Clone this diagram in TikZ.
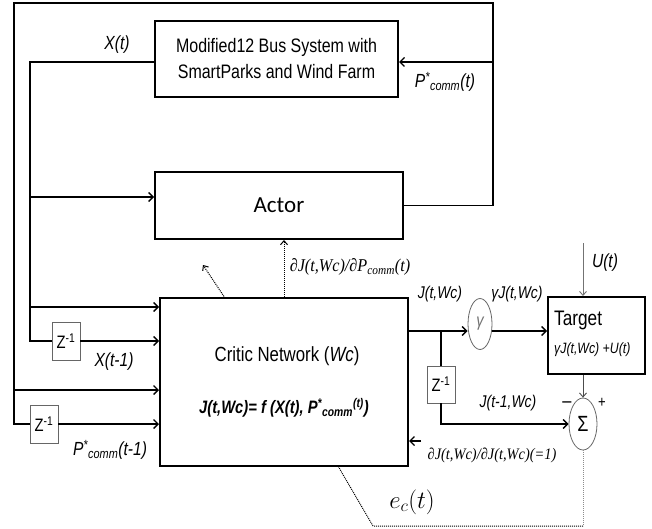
\documentclass[tikz,border=0pt]{standalone}
\usepackage{fontspec}
\setmainfont[FakeStretch=0.82]{Liberation Sans}
\newfontfamily\carl{Carlito}
\newfontfamily\serifit[FakeStretch=0.9]{Liberation Serif}
\usetikzlibrary{arrows.meta,shapes.geometric}
\begin{document}
\begin{tikzpicture}[x=1pt,y=-1pt,
  bigbox/.style={draw, line width=2pt, inner sep=0pt},
  zbox/.style={draw=black!60, line width=0.8pt, fill=white, inner sep=0pt, minimum width=28pt, minimum height=38pt, font=\fontsize{18}{20}\selectfont},
  oval/.style={draw=black!60, ellipse, line width=0.8pt, inner sep=0pt},
  wire/.style={line width=1.4pt, line cap=rect},
  arr/.style={line width=1.4pt, -{Straight Barb[length=4.5pt,width=9pt]}},
  dotarr/.style={line width=1pt, densely dotted, -{Straight Barb[length=4pt,width=7pt]}},
  lbl/.style={inner sep=0pt, font=\fontsize{19}{21}\selectfont\itshape},
  slbl/.style={inner sep=0pt, font=\fontsize{17}{19}\selectfont\itshape},
]
\useasboundingbox (0,0) rectangle (652,529);

% boxes
\node[bigbox, minimum width=243pt, minimum height=76pt, align=center,
      font=\fontsize{19.5}{26}\selectfont] (bus) at (276.5,59)
  {Modified12 Bus System with\\SmartParks and Wind Farm};
\node[bigbox, minimum width=248pt, minimum height=67pt,
      font=\carl\fontsize{23}{25}\selectfont] (actor) at (279,205.5) {Actor};
\node[bigbox, minimum width=248pt, minimum height=168pt] (critic) at (284,382) {};
\node[inner sep=0pt, font=\fontsize{20.5}{22}\selectfont] (ctitle) at (287,356) {Critic Network (\textit{Wc})};
\node[inner sep=0pt, font=\fontsize{18}{20}\selectfont\bfseries\itshape] (cform) at (284,408)
  {J(t,Wc)= f (X(t), P\textsuperscript{*}\textsubscript{comm}\textsuperscript{(t)})};

\node[zbox] (z1) at (66,341) {Z\textsuperscript{-1}};
\node[zbox] (z2) at (44,424) {Z\textsuperscript{-1}};
\node[zbox, minimum height=37pt] (z3) at (441,384.5) {Z\textsuperscript{-1}};

\node[oval, minimum width=24pt, minimum height=51pt, text=black!55,
      font=\fontsize{18}{20}\selectfont\itshape] (gamma) at (480,324) {γ};
\node[bigbox, minimum width=97pt, minimum height=77pt] (target) at (596.5,335.5) {};
\node[inner sep=0pt, anchor=west, font=\fontsize{21}{23}\selectfont] (ttitle) at (554,320) {Target};
\node[inner sep=0pt, anchor=west, font=\fontsize{15}{17}\selectfont\itshape] (tform) at (554,350) {γJ(t,Wc) +U(t)};
\node[oval, minimum width=28pt, minimum height=52pt,
      font=\fontsize{22}{24}\selectfont] (sigma) at (583,424) {Σ};

% coordinates
\coordinate (xt) at (30,62);
\coordinate (xa) at (30,197);
\coordinate (xc) at (30,307);
\coordinate (xb) at (30,341);
\coordinate (ra) at (493,205.5);
\coordinate (rb) at (493,62);
\coordinate (rt) at (493,3);
\coordinate (lt) at (14,3);
\coordinate (lc) at (14,390);
\coordinate (lb) at (14,424);
\coordinate (da) at (225,298);
\coordinate (db) at (203,265);
\coordinate (jb) at (441,331);
\coordinate (ut) at (583,243);
\coordinate (dj) at (421,441);
\coordinate (ea) at (583,526);
\coordinate (eb) at (373,526);
\coordinate (ec) at (338,466);

% left wiring
\draw[wire] (bus.west |- xt) -- (xt) -- (xb) -- (z1.west);
\draw[arr] (xa) -- (actor.west |- xa);
\draw[arr] (xc) -- (critic.west |- xc);
\draw[arr] (z1.east) -- (critic.west |- z1.east);
\draw[wire] (actor.east) -- (ra) -- (rt) -- (lt) -- (lb) -- (z2.west);
\draw[arr] (rb) -- (bus.east |- rb);
\draw[arr] (lc) -- (critic.west |- lc);
\draw[arr] (z2.east) -- (critic.west |- z2.east);

% dotted gradients
\draw[dotarr] (critic.north) -- (critic.north |- actor.south);
\draw[dotarr] (da) -- (db);

% right wiring
\draw[arr] (critic.east |- jb) -- (gamma.west |- jb);
\draw[arr] (gamma.east |- jb) -- (target.west |- jb);
\draw[wire] (jb) -- (z3.north);
\draw[arr] (z3.south) -- (z3.south |- sigma) -- (sigma.west);
\draw[line width=0.9pt, black!55, -{Straight Barb[length=4pt,width=7pt]}] (ut) -- (sigma.north |- target.north);
\draw[line width=0.9pt, black!70, -{Straight Barb[length=4pt,width=7pt]}] (sigma.north |- target.south) -- (sigma.north);
\draw[arr] (dj) -- (critic.east |- dj);
\draw[line width=1pt, densely dotted, black!45] (sigma.south) -- (ea);
\draw[line width=1pt, densely dotted] (ea) -- (eb) -- (ec);

% labels
\node[lbl] (lxt) at (117,45) {X(t)};
\node[lbl] (lpt) at (445,82) {P\textsuperscript{*}\textsubscript{comm}(t)};
\node[lbl] (lx1) at (114,362) {X(t-1)};
\node[lbl] (lp1) at (110,450) {P\textsuperscript{*}\textsubscript{comm}(t-1)};
\node[inner sep=0pt, font=\serifit\fontsize{18}{20}\selectfont\itshape] (ldp) at (350,267)
  {∂J(t,Wc)/∂P\textsubscript{comm}(t)};
\node[slbl] (ljt) at (440,294) {J(t,Wc)};
\node[slbl] (lgj) at (517,294) {γJ(t,Wc)};
\node[slbl] (lj1) at (508,403) {J(t-1,Wc)};
\node[lbl] (lu) at (605,263) {U(t)};
\node[inner sep=0pt, font=\serifit\fontsize{16}{18}\selectfont\itshape] (ldj) at (492,455)
  {∂J(t,Wc)/∂J(t,Wc)(=1)};
\node[inner sep=0pt, font=\fontsize{27}{29}\selectfont] (lec) at (412,502) {$e_c(t)$};
\node[inner sep=0pt, font=\fontsize{20}{22}\selectfont] (lmin) at (567,405) {–};
\node[inner sep=0pt, font=\fontsize{16}{18}\selectfont] (lplus) at (602,403) {+};
\end{tikzpicture}
\end{document}
